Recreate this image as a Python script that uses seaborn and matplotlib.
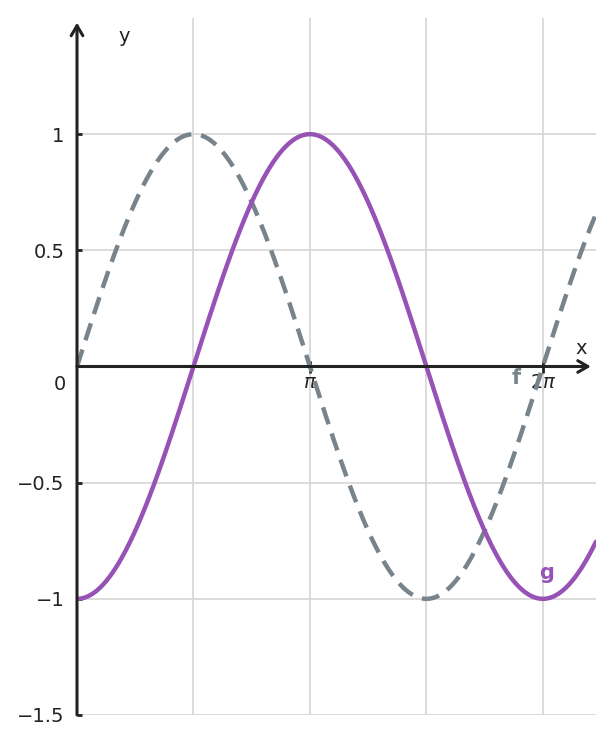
import numpy as np
import pandas as pd
import matplotlib
matplotlib.use('Agg')
import matplotlib.pyplot as plt
import seaborn as sns

# plotted functions: f(x) = sin x (dashed), g(x) = -cos x (solid)
x_range = [0, 7]
y_range = [-1.5, 1.5]
x_major = [np.pi, 2 * np.pi]
x_major_labels = [r'$\pi$', r'$2\pi$']
x_minor = [np.pi / 2, 3 * np.pi / 2]
y_ticks = [-1.5, -1, -0.5, 0.5, 1]
y_labels = ['\u22121.5', '\u22121', '\u22120.5', '0.5', '1']

x = np.linspace(x_range[0], x_range[1], 500)
df = pd.DataFrame({'x': x, 'f': np.sin(x), 'g': -np.cos(x)})

gray = '#78848b'
purple = '#9653b5'
ink = '#222222'

sns.set_theme(style='whitegrid')
plt.rcParams['font.family'] = ['DejaVu Sans']

fig = plt.figure(figsize=(6.14, 7.44), dpi=100)
ax = fig.add_axes([77 / 614, 29 / 744, 519 / 614, 697 / 744])

sns.lineplot(data=df, x='x', y='f', ax=ax, color=gray, lw=3.2, linestyle=(0, (4, 2.2)))
sns.lineplot(data=df, x='x', y='g', ax=ax, color=purple, lw=3.2)

ax.set_xlim(x_range)
ax.set_ylim(y_range)
ax.set_xlabel('')
ax.set_ylabel('')

ax.set_xticks(x_major)
ax.set_xticklabels(x_major_labels)
ax.set_xticks(x_minor, minor=True)
ax.set_yticks(y_ticks)
ax.set_yticklabels(y_labels)

ax.grid(True, which='both', color='#d9d9d9', lw=1.3)
ax.set_axisbelow(True)

for s in ax.spines.values():
    s.set_visible(False)
ax.spines['bottom'].set_position(('data', 0))
ax.spines['left'].set_position(('data', 0))

ax.tick_params(axis='x', which='major', bottom=True, direction='inout', length=8, width=2,
               color=ink, labelsize=14, labelcolor=ink, pad=1)
ax.tick_params(axis='x', which='minor', bottom=False, length=0)
ax.tick_params(axis='y', left=True, direction='in', length=3.5, width=2,
               color=ink, labelsize=14, labelcolor=ink, pad=9)

# axis lines with open arrow heads
ax.annotate('', xy=(6.93, 0), xytext=(0, 0),
            arrowprops=dict(arrowstyle='->,head_length=0.6,head_width=0.35',
                            color=ink, lw=2.2, shrinkA=0, shrinkB=0))
ax.annotate('', xy=(0, 1.48), xytext=(0, -1.5),
            arrowprops=dict(arrowstyle='->,head_length=0.6,head_width=0.35',
                            color=ink, lw=2.2, shrinkA=0, shrinkB=0),
            annotation_clip=False)

ax.annotate('0', xy=(0, 0), xytext=(-8, -6), textcoords='offset points',
            ha='right', va='top', fontsize=14, color=ink)
ax.annotate('x', xy=(6.93, 0), xytext=(-7, 6), textcoords='offset points',
            ha='center', va='bottom', fontsize=14, color=ink)
ax.annotate('y', xy=(0, 1.48), xytext=(34, -10), textcoords='offset points',
            ha='center', va='center', fontsize=14, color=ink)

ax.text(5.92, -0.05, 'f', color=gray, fontsize=15, fontweight='bold',
        ha='center', va='center')
ax.text(6.33, -0.89, 'g', color=purple, fontsize=15, fontweight='bold',
        ha='center', va='center')

fig.savefig('out.png', dpi=100)
